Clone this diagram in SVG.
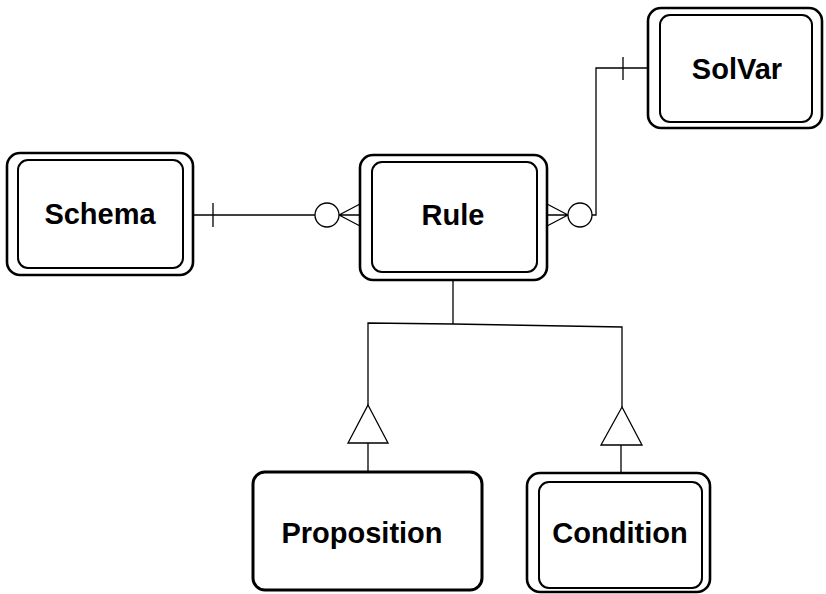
<svg xmlns="http://www.w3.org/2000/svg" width="826" height="594" viewBox="0 0 826 594">
  <style>
    .outer { fill: #fff; stroke: #000; stroke-width: 2.6; }
    .inner { fill: none; stroke: #000; stroke-width: 2; }
    .label { font-family: "Liberation Sans", Arial, sans-serif; font-weight: bold; font-size: 29px; fill: #000; text-anchor: middle; }
    .conn { fill: none; stroke: #000; stroke-width: 1.3; }
    .sym { fill: #fff; stroke: #000; stroke-width: 1.3; }
  </style>
  <rect width="826" height="594" fill="#fff"/>

  <g id="connectors">
    <!-- Schema to Rule: one mandatory, many optional -->
    <line class="conn" x1="193" y1="215" x2="315" y2="215"/>
    <line class="conn" x1="213" y1="203" x2="213" y2="227"/>
    <circle class="sym" cx="327" cy="215" r="12"/>
    <path class="conn" d="M339 215 L360 204 M339 215 L360 215 M339 215 L360 226"/>

    <!-- Rule to SolVar -->
    <path class="conn" d="M547 204 L568 215 M547 215 L568 215 M547 226 L568 215"/>
    <circle class="sym" cx="580" cy="215" r="12"/>
    <path class="conn" d="M592 215 L596 215 L596 68 L648 68"/>
    <line class="conn" x1="623" y1="57" x2="623" y2="80"/>

    <!-- Rule generalisation -->
    <path class="conn" d="M453 280 L453 324"/>
    <path class="conn" d="M368 405 L368 323 L453 324 L622 327 L622 407"/>
    <polygon class="sym" points="368,405 388,443 348,443"/>
    <line class="conn" x1="368" y1="443" x2="368" y2="472"/>
    <polygon class="sym" points="622,407 642,445 601,445"/>
    <line class="conn" x1="621" y1="445" x2="621" y2="473"/>
  </g>

  <g id="schema">
    <rect class="outer" x="7" y="153" width="186" height="122" rx="13"/>
    <rect class="inner" x="18" y="160" width="165" height="108" rx="10"/>
    <text class="label" x="100" y="224">Schema</text>
  </g>

  <g id="rule">
    <rect class="outer" x="360" y="155" width="187" height="125" rx="13"/>
    <rect class="inner" x="372" y="162" width="165" height="110" rx="10"/>
    <text class="label" x="453" y="225">Rule</text>
  </g>

  <g id="solvar">
    <rect class="outer" x="648" y="8" width="174" height="120" rx="13"/>
    <rect class="inner" x="660" y="15" width="152" height="107" rx="10"/>
    <text class="label" x="737" y="79">SolVar</text>
  </g>

  <g id="proposition">
    <rect class="outer" x="253" y="472" width="229" height="118" rx="12" style="stroke-width:3"/>
    <text class="label" x="362" y="543">Proposition</text>
  </g>

  <g id="condition">
    <rect class="outer" x="527" y="473" width="183" height="119" rx="13"/>
    <rect class="inner" x="539" y="482" width="163" height="106" rx="10"/>
    <text class="label" x="620" y="543">Condition</text>
  </g>
</svg>
